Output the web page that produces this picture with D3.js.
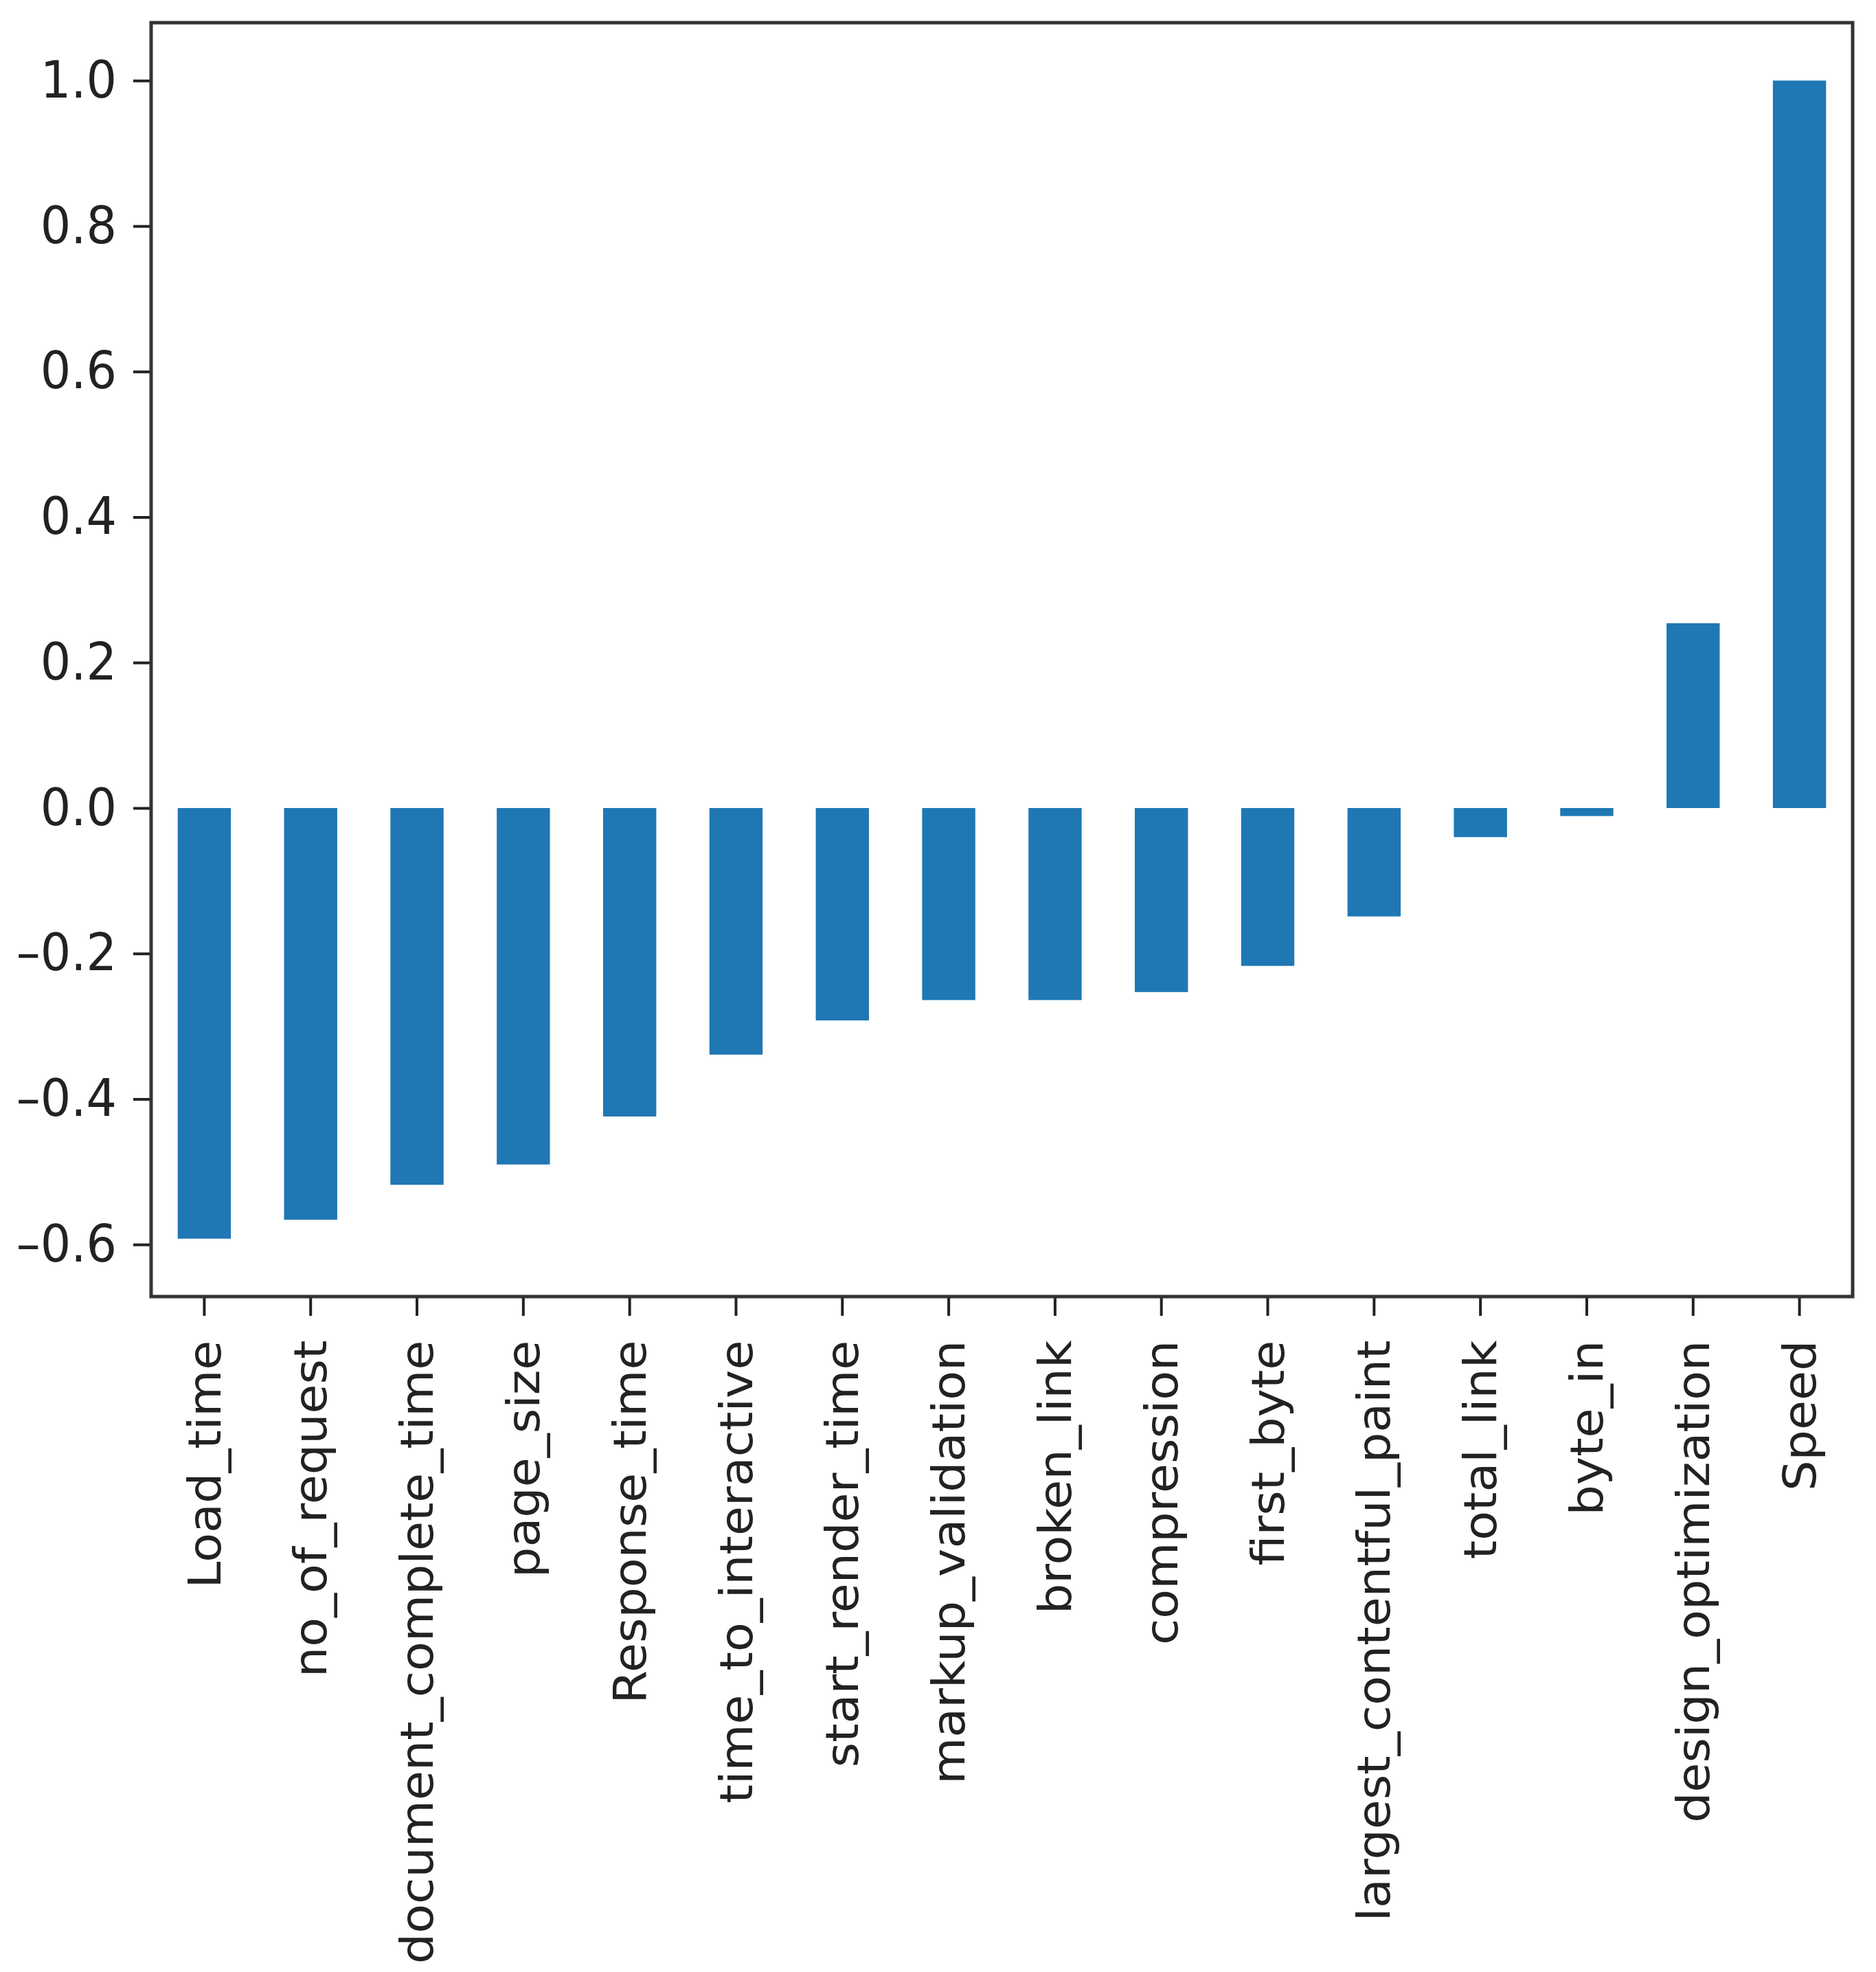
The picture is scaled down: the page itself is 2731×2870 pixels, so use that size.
<!DOCTYPE html>
<html>
<head>
<meta charset="utf-8">
<script src="https://cdn.jsdelivr.net/npm/d3@7"></script>
<style>
  body { margin: 0; background: #fff; }
  .tick text { font-family: 'DejaVu Sans', sans-serif; fill: #222; }
</style>
</head>
<body>
<div id="vis"></div>
<script>
const FRAME_WIDTH = 2731;
const FRAME_HEIGHT = 2870;
const MARGINS = {left: 220, right: 34, top: 33, bottom: 983};

// correlation with Speed
const features = ['Load_time', 'no_of_request', 'document_complete_time', 'page_size',
  'Response_time', 'time_to_interactive', 'start_render_time', 'markup_validation',
  'broken_link', 'compression', 'first_byte', 'largest_contentful_paint',
  'total_link', 'byte_in', 'design_optimization', 'Speed'];
const corr = [-0.592, -0.566, -0.518, -0.490, -0.424, -0.339, -0.292, -0.264,
  -0.264, -0.253, -0.217, -0.149, -0.040, -0.011, 0.254, 1.0];
const yTicks = [-0.6, -0.4, -0.2, 0.0, 0.2, 0.4, 0.6, 0.8, 1.0];

const VIS_WIDTH = FRAME_WIDTH - MARGINS.left - MARGINS.right;
const VIS_HEIGHT = FRAME_HEIGHT - MARGINS.top - MARGINS.bottom;

const FRAME = d3.select('#vis')
  .append('svg')
    .attr('width', FRAME_WIDTH)
    .attr('height', FRAME_HEIGHT);

const g = FRAME.append('g')
  .attr('transform', 'translate(' + MARGINS.left + ',' + MARGINS.top + ')');

// matplotlib style 5% padding
const lo = Math.min(0, d3.min(corr));
const hi = Math.max(0, d3.max(corr));
const pad = (hi - lo) * 0.05;

const X_SCALE = d3.scaleBand()
  .domain(features)
  .range([0, VIS_WIDTH])
  .paddingInner(0.5)
  .paddingOuter(0.25);

const Y_SCALE = d3.scaleLinear()
  .domain([lo - pad, hi + pad])
  .range([VIS_HEIGHT, 0]);

g.selectAll('.bar')
  .data(features)
  .enter()
  .append('rect')
    .attr('class', 'bar')
    .attr('x', d => X_SCALE(d))
    .attr('width', X_SCALE.bandwidth())
    .attr('y', (d, i) => Y_SCALE(Math.max(0, corr[i])))
    .attr('height', (d, i) => Math.abs(Y_SCALE(corr[i]) - Y_SCALE(0)))
    .attr('fill', '#1f77b4');

// y axis - shorter dash than d3's default minus sign
const yAxis = g.append('g')
  .call(d3.axisLeft(Y_SCALE).tickValues(yTicks)
    .tickFormat(d => d3.format('.1f')(d).replace('\u2212', '\u2013'))
    .tickSize(26).tickPadding(24));
yAxis.select('.domain').remove();
yAxis.selectAll('.tick line').attr('stroke', '#222').attr('stroke-width', 4);
yAxis.selectAll('.tick text')
  .attr('font-size', '70px')
  .attr('transform', 'scale(1,1.08)');

// x axis
const xAxis = g.append('g')
  .attr('transform', 'translate(0,' + VIS_HEIGHT + ')')
  .call(d3.axisBottom(X_SCALE).tickSize(28).tickPadding(36));
xAxis.select('.domain').remove();
xAxis.selectAll('.tick line').attr('stroke', '#222').attr('stroke-width', 4);
xAxis.selectAll('.tick text')
  .attr('font-size', '66px')
  .attr('transform', 'rotate(-90) scale(1.06,1)')
  .attr('text-anchor', 'end')
  .attr('dy', '0.35em')
  .attr('x', -60)
  .attr('y', 0);

// frame around the plot
g.append('rect')
  .attr('width', VIS_WIDTH)
  .attr('height', VIS_HEIGHT)
  .attr('fill', 'none')
  .attr('stroke', '#333')
  .attr('stroke-width', 5);
</script>
</body>
</html>
